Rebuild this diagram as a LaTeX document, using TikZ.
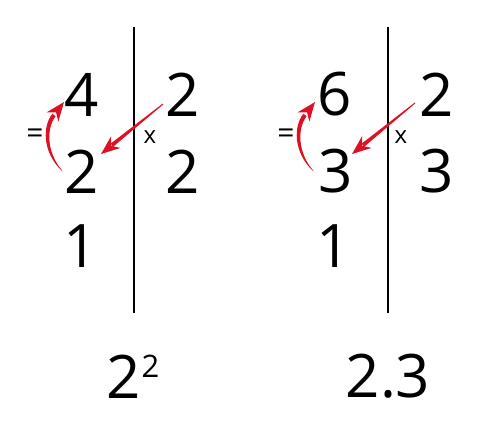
\documentclass[tikz,border=0pt]{standalone}
\usepackage{fontspec}
\setmainfont{Open Sans}
\usetikzlibrary{calc}
\definecolor{arrowred}{RGB}{222,16,36}
\tikzset{
  big/.style={inner sep=0pt, anchor=center, font=\fontsize{60}{60}\selectfont},
  small/.style={inner sep=0pt, anchor=center, font=\fontsize{24}{24}\selectfont},
  eqsign/.style={inner sep=0pt, anchor=center, font=\fontsize{30}{30}\selectfont},
  sup/.style={inner sep=0pt, anchor=center, font=\fontsize{31}{31}\selectfont},
  rule/.style={line width=1.8pt},
  redfill/.style={fill=arrowred, draw=none}
}
% arrow head: #1 tip, #2 point behind the tip (sets direction)
\newcommand\myhead[2]{%
  \coordinate (hb) at ($(#1)!19pt!(#2)$);
  \coordinate (hn) at ($(#1)!13pt!(#2)$);
  \fill[redfill] (#1) -- ($(hb)!7.5pt!90:(#2)$) -- (hn) -- ($(hb)!7.5pt!-90:(#2)$) -- cycle;
}
% straight tapered arrow: #1 tail, #2 tip
\newcommand\mystraight[2]{%
  \coordinate (sb) at ($(#2)!14pt!(#1)$);
  \fill[redfill] ($(#1)!0.5pt!90:(#2)$) -- ($(sb)!2pt!-90:(#1)$) -- ($(sb)!2pt!90:(#1)$) -- ($(#1)!0.5pt!-90:(#2)$) -- cycle;
  \myhead{#2}{#1}
}
\begin{document}
\begin{tikzpicture}[x=1pt,y=1pt]
\useasboundingbox (0,0) rectangle (500,-429);
% left panel
\coordinate (lt) at (134,-27);
\coordinate (lb) at (134,-313);
\draw[rule] (lt) -- (lb);
\node[big] (a4) at (82,-94.5) {4};
\node[big] (a2) at (82,-171.5) {2};
\node[big] (a1) at (81,-246) {1};
\node[big] (b2) at (183,-94.5) {2};
\node[big] (b2b) at (183,-171.5) {2};
\node[eqsign] (aeq) at (35,-136) {=};
\node[small] (ax) at (150,-137) {x};
% curved arrow 2 -> 4
\coordinate (ac1) at (62,-171);
\coordinate (acb) at (54,-115);
\coordinate (ac2) at (64,-102);
\fill[redfill] (ac1) .. controls (42,-152) and (42.5,-126) .. ($(acb)+(-1.6,1.3)$)
  -- ($(acb)+(1.6,-1.3)$) .. controls (46.5,-128) and (46,-152) .. ($(ac1)+(0.6,0)$) -- cycle;
\myhead{ac2}{acb}
% straight arrow 2 -> 2
\coordinate (ad1) at (163,-104);
\coordinate (ad2) at (101,-154);
\mystraight{ad1}{ad2}
% right panel
\coordinate (rt) at (388,-27);
\coordinate (rb) at (388,-313);
\draw[rule] (rt) -- (rb);
\node[big] (c6) at (335,-94.5) {6};
\node[big] (c3) at (336,-171.5) {3};
\node[big] (c1) at (334,-246) {1};
\node[big] (d2) at (437,-94.5) {2};
\node[big] (d3) at (437,-171.5) {3};
\node[eqsign] (ceq) at (286,-136) {=};
\node[small] (cx) at (401,-137) {x};
\coordinate (cc1) at (313,-171);
\coordinate (ccb) at (305,-115);
\coordinate (cc2) at (315,-102);
\fill[redfill] (cc1) .. controls (293,-152) and (293.5,-126) .. ($(ccb)+(-1.6,1.3)$)
  -- ($(ccb)+(1.6,-1.3)$) .. controls (297.5,-128) and (297,-152) .. ($(cc1)+(0.6,0)$) -- cycle;
\myhead{cc2}{ccb}
\coordinate (cd1) at (415,-103);
\coordinate (cd2) at (352,-154);
\mystraight{cd1}{cd2}
% bottom
\node[big] (p2) at (124,-376.5) {2};
\node[sup] (p2s) at (150.5,-366) {2};
\node[big] (q23) at (388,-376.5) {2.3};
\end{tikzpicture}
\end{document}
